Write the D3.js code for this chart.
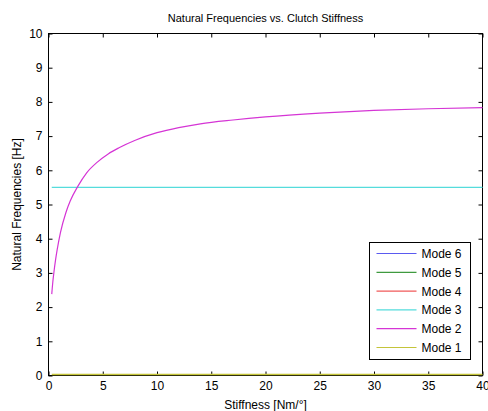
<!DOCTYPE html>
<html>
<head>
<meta charset="utf-8">
<script src="https://cdn.jsdelivr.net/npm/d3@7"></script>
<style>
  body { margin: 0; background: #fff; }
  text { font-family: "Liberation Sans", Arial, sans-serif; fill: #000; }
</style>
</head>
<body>
<svg width="488" height="411"></svg>
<script>
// stiffness samples [Nm/deg] and frequencies [Hz]
var stiffness = [0.3, 0.4, 0.5, 0.65, 0.8, 1.1, 1.6, 2, 2.7, 3.5, 4.5, 5.5, 6.5, 8, 10, 12, 14, 17, 20, 25, 30, 35, 40];
var mode1 = [0, 0, 0, 0, 0, 0, 0, 0, 0, 0, 0, 0, 0, 0, 0, 0, 0, 0, 0, 0, 0, 0, 0];
var mode2 = [2.38, 2.74, 3.02, 3.38, 3.68, 4.18, 4.76, 5.1, 5.53, 5.92, 6.24, 6.48, 6.66, 6.88, 7.1, 7.25, 7.36, 7.47, 7.56, 7.67, 7.75, 7.8, 7.83];
var mode3 = [5.5, 5.5, 5.5, 5.5, 5.5, 5.5, 5.5, 5.5, 5.5, 5.5, 5.5, 5.5, 5.5, 5.5, 5.5, 5.5, 5.5, 5.5, 5.5, 5.5, 5.5, 5.5, 5.5];
// modes 4-6 lie above the visible range
var mode4 = [], mode5 = [], mode6 = [];

var modeNames = ["Mode 6", "Mode 5", "Mode 4", "Mode 3", "Mode 2", "Mode 1"];
var modeColors = ["#5a5af0", "#3f9a3f", "#f05a5a", "#55dcdc", "#d535d5", "#c4c43a"];
var modeValues = [mode6, mode5, mode4, mode3, mode2, mode1];

var xTicks = [0, 5, 10, 15, 20, 25, 30, 35, 40];
var yTicks = [0, 1, 2, 3, 4, 5, 6, 7, 8, 9, 10];

var svg = d3.select("svg"),
    pLeft = 48.5, pRight = 482.5, pTop = 33.5, pBottom = 375.5;

var x = d3.scaleLinear().domain([0, 40]).range([pLeft, pRight]);
var y = d3.scaleLinear().domain([0, 10]).range([pBottom, pTop]);

svg.append("clipPath").attr("id", "clip")
  .append("rect")
    .attr("x", pLeft - 1).attr("y", pTop - 1)
    .attr("width", pRight - pLeft + 2).attr("height", pBottom - pTop + 2);

// ticks: inside, on all four sides
var tickLen = 4;
svg.append("g")
    .attr("transform", "translate(0," + pBottom + ")")
    .call(d3.axisBottom(x).tickValues(xTicks).tickSize(-tickLen).tickPadding(6))
    .call(styleAxis);
svg.append("g")
    .attr("transform", "translate(0," + pTop + ")")
    .call(d3.axisTop(x).tickValues(xTicks).tickSize(-tickLen).tickFormat(""))
    .call(styleAxis);
svg.append("g")
    .attr("transform", "translate(" + pLeft + ",0)")
    .call(d3.axisLeft(y).tickValues(yTicks).tickSize(-tickLen).tickPadding(6))
    .call(styleAxis);
svg.append("g")
    .attr("transform", "translate(" + pRight + ",0)")
    .call(d3.axisRight(y).tickValues(yTicks).tickSize(-tickLen).tickFormat(""))
    .call(styleAxis);

function styleAxis(g) {
  g.select(".domain").remove();
  g.selectAll(".tick line").attr("stroke", "#000");
  g.selectAll(".tick text").style("font-size", "12px").attr("fill", "#000");
}

svg.append("rect")
    .attr("x", pLeft).attr("y", pTop)
    .attr("width", pRight - pLeft).attr("height", pBottom - pTop)
    .attr("fill", "none").attr("stroke", "#000");

var line = d3.line()
    .curve(d3.curveMonotoneX)
    .x(function(d, i) { return x(stiffness[i]); })
    .y(function(d) { return y(d); });

var plot = svg.append("g").attr("clip-path", "url(#clip)");
modeValues.forEach(function(vals, i) {
  if (!vals.length) return;
  plot.append("path")
      .attr("d", line(vals))
      .attr("fill", "none")
      .attr("stroke", modeColors[i])
      .attr("stroke-width", i == 5 ? 1.5 : 1.2)
      .attr("transform", i == 5 ? "translate(0,-1)" : null);
});

// titles
svg.append("text")
    .attr("x", (pLeft + pRight) / 2).attr("y", 22)
    .attr("text-anchor", "middle").style("font-size", "11px")
    .text("Natural Frequencies vs. Clutch Stiffness");
svg.append("text")
    .attr("x", (pLeft + pRight) / 2).attr("y", 409)
    .attr("text-anchor", "middle").style("font-size", "12px")
    .text("Stiffness [Nm/°]");
svg.append("text")
    .attr("transform", "translate(21," + (pTop + pBottom) / 2 + ") rotate(-90)")
    .attr("text-anchor", "middle").style("font-size", "12px")
    .text("Natural Frequencies [Hz]");

// legend
var legend = svg.append("g").attr("transform", "translate(369.5,242.5)");
legend.append("rect")
    .attr("width", 101).attr("height", 117)
    .attr("fill", "#fff").attr("stroke", "#000");
modeNames.forEach(function(name, i) {
  var ly = 11 + i * 18.8;
  legend.append("line")
      .attr("x1", 7).attr("x2", 47).attr("y1", ly).attr("y2", ly)
      .attr("stroke", modeColors[i]).attr("stroke-width", 1.2);
  legend.append("text")
      .attr("x", 52).attr("y", ly + 4.5)
      .style("font-size", "12px")
      .text(name);
});
</script>
</body>
</html>
